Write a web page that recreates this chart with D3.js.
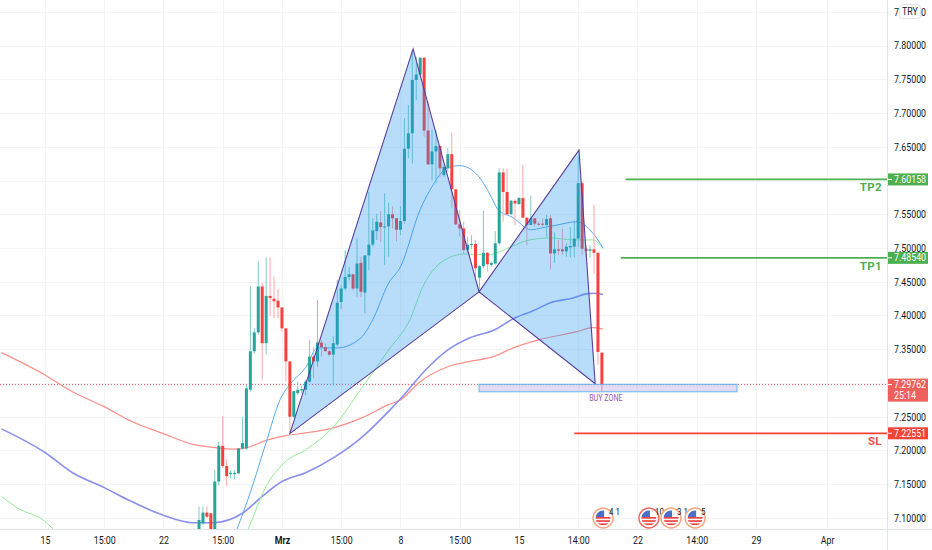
<!DOCTYPE html>
<html><head><meta charset="utf-8">
<script src="https://cdn.jsdelivr.net/npm/d3@7"></script>
<style>
html,body{margin:0;padding:0;background:#fff;overflow:hidden}
svg{display:block}
text{font-family:"Roboto",sans-serif}
</style></head><body><svg id="c" width="932" height="550"></svg>
<script>
// ---- candles, one entry per bar (bar 0 is the first visible candle)
const opens=[7.082,7.092,7.108,7.107,7.07,7.154,7.207,7.177,7.165,7.165,7.166,7.203,7.203,7.290,7.347,7.375,7.443,7.359,7.429,7.425,7.422,7.412,7.381,7.332,7.250,7.285,7.289,7.290,7.302,7.339,7.332,7.360,7.353,7.347,7.342,7.357,
7.420,7.440,7.457,7.461,7.440,7.478,7.434,7.489,7.505,7.525,7.538,7.531,7.532,7.550,7.544,7.527,7.540,7.647,7.670,7.749,7.757,7.782,7.674,7.624,7.643,7.651,7.608,7.618,7.639,7.587,7.535,7.529,7.497,7.505,7.506,7.456,7.473,7.493,7.475,7.477,7.507,
7.612,7.583,7.550,7.570,7.565,7.574,7.545,7.534,7.544,7.536,7.536,7.534,7.544,7.492,7.498,7.498,7.495,7.501,7.502,7.514,7.596,7.499,7.496,7.498,7.493,7.345];
const highs=[7.117,7.117,7.117,7.107,7.171,7.213,7.251,7.187,7.171,7.171,7.203,7.250,7.297,7.444,7.381,7.481,7.448,7.486,7.486,7.458,7.439,7.412,7.381,7.332,7.288,7.302,7.296,7.305,7.364,7.354,7.423,7.364,7.359,7.349,7.369,7.453,
7.445,7.497,7.472,7.462,7.514,7.487,7.489,7.583,7.544,7.551,7.555,7.581,7.567,7.562,7.544,7.562,7.692,7.712,7.793,7.783,7.782,7.782,7.717,7.675,7.675,7.651,7.623,7.648,7.671,7.587,7.556,7.539,7.517,7.519,7.512,7.475,7.555,7.494,7.480,7.525,7.618,
7.618,7.618,7.571,7.572,7.576,7.623,7.545,7.578,7.544,7.539,7.544,7.549,7.549,7.523,7.512,7.529,7.507,7.531,7.541,7.635,7.598,7.504,7.504,7.564,7.493,7.345];
const lows=[7.06,7.090,7.100,7.06,7.06,7.148,7.174,7.148,7.159,7.157,7.166,7.201,7.201,7.287,7.344,7.371,7.305,7.342,7.399,7.396,7.396,7.376,7.302,7.226,7.248,7.282,7.285,7.282,7.300,7.307,7.324,7.339,7.347,7.339,7.296,7.354,
7.410,7.437,7.452,7.437,7.428,7.427,7.403,7.467,7.502,7.512,7.509,7.475,7.487,7.529,7.510,7.519,7.536,7.633,7.625,7.719,7.756,7.665,7.623,7.600,7.596,7.605,7.605,7.613,7.559,7.534,7.517,7.492,7.492,7.498,7.457,7.433,7.470,7.465,7.472,7.475,7.504,
7.539,7.549,7.549,7.534,7.564,7.544,7.504,7.534,7.532,7.532,7.531,7.517,7.468,7.478,7.490,7.490,7.487,7.486,7.486,7.501,7.490,7.486,7.486,7.462,7.327,7.288];
const closes=[7.097,7.108,7.102,7.07,7.154,7.207,7.177,7.162,7.167,7.167,7.203,7.211,7.292,7.347,7.375,7.443,7.359,7.429,7.426,7.421,7.412,7.381,7.332,7.250,7.288,7.290,7.291,7.302,7.339,7.332,7.360,7.353,7.347,7.342,7.359,7.419,
7.440,7.457,7.461,7.440,7.477,7.435,7.489,7.505,7.526,7.539,7.531,7.532,7.550,7.544,7.527,7.540,7.647,7.670,7.749,7.757,7.782,7.674,7.624,7.643,7.651,7.618,7.620,7.639,7.587,7.535,7.529,7.497,7.505,7.506,7.470,7.473,7.493,7.476,7.478,7.507,7.612,
7.583,7.550,7.570,7.566,7.574,7.545,7.534,7.544,7.536,7.535,7.535,7.543,7.492,7.498,7.496,7.495,7.502,7.503,7.514,7.596,7.499,7.496,7.498,7.493,7.346,7.298];

// ---- moving averages, read at selected bars
const redBars=[-50,-39,-32,-24,-17,-9,-1.5,4.5,8.6,12,17,22,27,33,41.5,48,51,56,63,68.6,74.5,79.5,86,95.7,99.7,102.3];
const redVals=[7.345,7.312,7.287,7.265,7.243,7.225,7.209,7.204,7.202,7.204,7.215,7.222,7.226,7.232,7.249,7.268,7.275,7.302,7.324,7.332,7.339,7.352,7.364,7.376,7.382,7.380];
const purpleBars=[-50,-39,-32,-24,-18,-9,-1.5,3.5,11,16,21,27,34,41.5,48,52,57,63,68.6,74.9,79.5,84.6,89,94.7,98,100,102.3];
const purpleVals=[7.232,7.197,7.167,7.145,7.127,7.104,7.093,7.093,7.107,7.132,7.154,7.167,7.189,7.221,7.258,7.283,7.317,7.349,7.367,7.379,7.395,7.407,7.419,7.426,7.432,7.433,7.431];
const greenBars=[-50,-46,-39,-37,-10,12.4,17,22,27,34,41.5,48,53.4,56.7,63,67,73,79.5,83,89,94.7,99.7,102.3];
const greenVals=[7.132,7.115,7.095,7.084,6.9,7.083,7.147,7.184,7.201,7.235,7.295,7.349,7.394,7.443,7.485,7.491,7.490,7.503,7.511,7.515,7.512,7.512,7.499];
const blueBars=[9.6,13,17,20.5,23,27,30,35,41,44,48,51,56,58.5,63,66,70.5,73.7,75.7,79.5,84,87,90.6,95.7,99.7,102.3];
const blueVals=[7.083,7.138,7.212,7.275,7.298,7.323,7.352,7.352,7.367,7.394,7.448,7.472,7.557,7.586,7.619,7.622,7.608,7.579,7.557,7.545,7.527,7.530,7.534,7.539,7.522,7.500];

// ---- harmonic pattern pivots X A B C D
const pivotBars=[23,54.2,70.9,96.2,100.3];
const pivotVals=[7.225,7.795,7.435,7.645,7.299];

// ---- levels
const levelNames=["TP2","TP1","SL"];
const levelVals=[7.60158,7.48540,7.22551];
const levelStartBars=[108,106.8,95];
const levelColors=["#4caf50","#4caf50","#f44336"];
const lastPrice=7.29762, countdown="25:14";
const zoneBars=[70.9,136.2], zoneVals=[7.298,7.287], zoneLabel="BUY ZONE", zoneLabelBar=103;

// ---- axes
const gridPrices=[7.10,7.15,7.20,7.25,7.30,7.35,7.40,7.45,7.50,7.55,7.60,7.65,7.70,7.75,7.80,7.85];
const labelPrices=[7.10,7.15,7.20,7.25,7.35,7.40,7.45,7.50,7.55,7.65,7.70,7.75,7.80,7.85];
const timeBars=[-39,-24,-9,6,21,36,51,66,81,96,111,126,141,159];
const timeLabels=["15","15:00","22","15:00","Mrz","15:00","8","15:00","15","14:00","22","14:00","29","Apr"];
const eventBars=[102.3,113.9,119.5,125.6];
const eventLabels=["4 1","10","3 1 1","5"];
const eventColors=["#f9a27a","#f0625a","#f9a27a","#f9a27a"];

const plotW=887.5, plotH=529.5;
const x=d3.scaleLinear().domain([0,100]).range([199,594]);
const y=d3.scaleLinear().domain([7.10,7.80]).range([518,45.5]);
const svg=d3.select("#c");
const defs=svg.append("defs");
defs.append("clipPath").attr("id","plot").append("rect").attr("width",plotW).attr("height",plotH);
const gGrid=svg.append("g");
gGrid.selectAll("line.h").data(gridPrices).join("line").attr("x1",0).attr("x2",plotW)
  .attr("y1",d=>Math.round(y(d))+.5).attr("y2",d=>Math.round(y(d))+.5).attr("stroke","#f3f4f6");
gGrid.selectAll("line.v").data(timeBars).join("line").attr("y1",0).attr("y2",plotH)
  .attr("x1",d=>Math.round(x(d))+.5).attr("x2",d=>Math.round(x(d))+.5).attr("stroke","#f3f4f6");

const plot=svg.append("g").attr("clip-path","url(#plot)");
plot.append("line").attr("x1",0).attr("x2",plotW).attr("y1",y(lastPrice)).attr("y2",y(lastPrice))
  .attr("stroke","#ef5350").attr("stroke-dasharray","1 2").attr("stroke-width",1);

const mkLine=d3.line().x(d=>x(d[0])).y(d=>y(d[1])).curve(d3.curveMonotoneX);
[[redBars,redVals,"#ff8f8a",1.2],[purpleBars,purpleVals,"#8a90ea",1.6],[greenBars,greenVals,"#93ee96",1],[blueBars,blueVals,"#5aaaf2",1]]
.forEach(([b,v,c,w])=>{
  plot.append("path").attr("d",mkLine(d3.zip(b,v))).attr("fill","none").attr("stroke",c).attr("stroke-width",w);
});

// candles
const bars=d3.range(opens.length);
const up=i=>closes[i]>=opens[i];
plot.selectAll("line.w").data(bars).join("line").attr("x1",i=>x(i)).attr("x2",i=>x(i))
  .attr("y1",i=>y(highs[i])).attr("y2",i=>y(lows[i]))
  .attr("stroke",i=>up(i)?"#7fcdc5":"#fba9a6").attr("stroke-width",1);
plot.selectAll("rect.b").data(bars).join("rect")
  .attr("x",i=>x(i)-1.5).attr("width",3)
  .attr("y",i=>y(Math.max(opens[i],closes[i])))
  .attr("height",i=>Math.max(1,Math.abs(y(opens[i])-y(closes[i]))))
  .attr("fill",i=>up(i)?"#26a69a":"#f6423f");

// pattern
const P=pivotBars.map((b,i)=>[x(b),y(pivotVals[i])]);
const tris=[[P[0],P[1],P[2]],[P[2],P[3],P[4]]];
plot.selectAll("path.t").data(tris).join("path")
  .attr("d",d=>"M"+d.join("L")+"Z").attr("fill","#2196f3").attr("fill-opacity",.32)
  .attr("stroke","#5a3d9c").attr("stroke-width",1.1);

// buy zone
plot.append("rect").attr("x",x(zoneBars[0])).attr("width",x(zoneBars[1])-x(zoneBars[0]))
  .attr("y",y(zoneVals[0])).attr("height",y(zoneVals[1])-y(zoneVals[0]))
  .attr("fill","#673ab7").attr("fill-opacity",.18).attr("stroke","#64b5f6").attr("stroke-width",1);
plot.append("text").attr("class","nar").attr("x",x(zoneLabelBar)).attr("y",y(zoneVals[1])+9.5).attr("text-anchor","middle")
  .attr("font-size",8.5).attr("fill","#8e5bb5").text(zoneLabel);

// level lines
levelVals.forEach((v,i)=>{
  plot.append("line").attr("x1",x(levelStartBars[i])).attr("x2",plotW).attr("y1",y(v)).attr("y2",y(v))
    .attr("stroke",levelColors[i]).attr("stroke-width",1.8);
  plot.append("text").attr("x",882).attr("y",y(v)+12).attr("text-anchor","end")
    .attr("font-size",11.5).attr("font-weight","bold").attr("letter-spacing",.4)
    .attr("fill",levelColors[i]==="#f44336"?"#f4504d":"#4caf50").text(levelNames[i]);
});

// events
const ev=svg.append("g");
eventBars.forEach((b,i)=>{
  const g=ev.append("g").attr("transform",`translate(${x(b)},518)`);
  const id="ef"+i;
  defs.append("clipPath").attr("id",id).append("circle").attr("r",7.5);
  g.append("circle").attr("r",10).attr("fill","#fff").attr("stroke",eventColors[i]).attr("stroke-width",1.4);
  const f=g.append("g").attr("clip-path",`url(#${id})`);
  f.append("rect").attr("x",-8).attr("y",-8).attr("width",16).attr("height",16).attr("fill","#fff");
  [-1,2.2,5.4].forEach(s=>f.append("rect").attr("x",-8).attr("y",s).attr("width",16).attr("height",1.7).attr("fill","#ef4444"));
  f.append("rect").attr("x",-8).attr("y",-8).attr("width",9).attr("height",7).attr("fill","#4a6fc4");
  g.append("text").attr("class","nar").attr("x",6).attr("y",-3.5).attr("font-size",9.5).attr("fill","#131722").text(eventLabels[i]);
});

// axes
const axisY=d3.axisRight(y).tickValues(labelPrices).tickSize(0).tickPadding(6.5).tickFormat(d3.format(".5f"));
const gy=svg.append("g").attr("transform",`translate(${plotW},0)`).call(axisY);
gy.select(".domain").remove();
const axisX=d3.axisBottom(x).tickValues(timeBars).tickSize(0).tickPadding(7).tickFormat((d,i)=>timeLabels[i]);
const gx=svg.append("g").attr("transform",`translate(0,${plotH})`).call(axisX);
gx.select(".domain").remove();
svg.selectAll(".tick text").classed("nar",true).attr("font-size",10.5).attr("fill","#131722").style("font-family",'"Roboto",sans-serif');
gx.selectAll(".tick text").filter((d,i)=>timeLabels[i]==="Mrz").attr("font-weight","bold");
svg.append("line").attr("x1",0).attr("x2",932).attr("y1",plotH).attr("y2",plotH).attr("stroke","#e0e3eb");
svg.append("line").attr("x1",plotW).attr("x2",plotW).attr("y1",0).attr("y2",550).attr("stroke","#e0e3eb");

// price labels
function tag(v,h,fill,lines){
  const yy=y(v), top=yy-6;
  const g=svg.append("g");
  g.append("rect").attr("x",888).attr("y",top).attr("width",40).attr("height",h).attr("fill",fill);
  g.append("line").attr("x1",888).attr("x2",892).attr("y1",yy).attr("y2",yy).attr("stroke","#fff");
  lines.forEach((t,i)=>g.append("text").attr("class","nar").attr("x",894).attr("y",top+9.5+i*11).attr("font-size",10.5).attr("fill","#fff").text(t));
}
tag(levelVals[0],12,"#4caf50",[d3.format(".5f")(levelVals[0])]);
tag(levelVals[1],12,"#4caf50",[d3.format(".5f")(levelVals[1])]);
tag(lastPrice,23,"#ef5f5c",[d3.format(".5f")(lastPrice),countdown]);
tag(levelVals[2],12,"#f44336",[d3.format(".5f")(levelVals[2])]);

// currency badge
svg.append("rect").attr("x",899.5).attr("y",4.5).attr("width",21).attr("height",14).attr("rx",3).attr("fill","#fff").attr("stroke","#e0e3eb");
svg.append("text").attr("class","nar").attr("x",910).attr("y",15).attr("text-anchor","middle").attr("font-size",10.5).attr("fill","#131722").text("TRY");

// the reference's lettering is narrower than Roboto at this height
svg.selectAll("text.nar").each(function(){
  const len=this.getComputedTextLength();
  d3.select(this).attr("textLength",len*0.84).attr("lengthAdjust","spacingAndGlyphs");
});
</script></body></html>
